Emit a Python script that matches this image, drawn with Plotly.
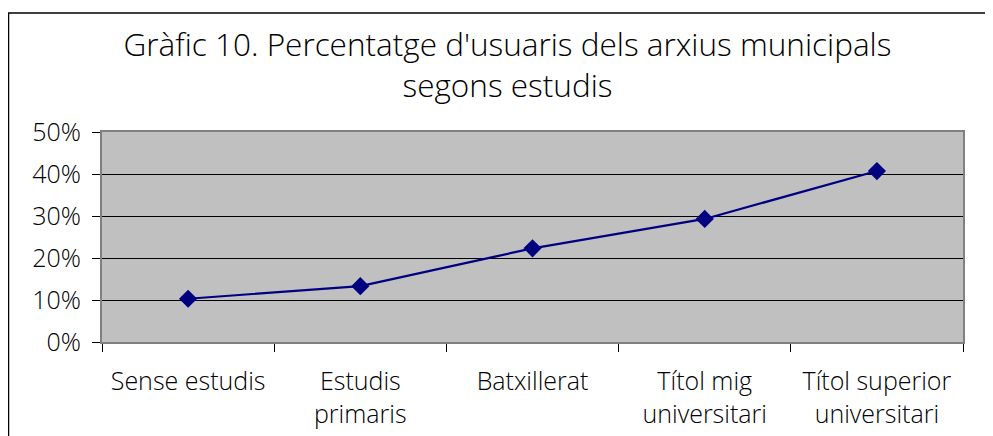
import plotly.graph_objects as go

categories = ["Sense estudis", "Estudis<br>primaris", "Batxillerat", "Títol mig<br>universitari", "Títol superior<br>universitari"]
values = [10.3, 13.3, 22.3, 29.3, 40.7]
y_ticks = [0, 10, 20, 30, 40, 50]
y_ticklabels = ["0%", "10%", "20%", "30%", "40%", "50%"]
title_text = "Gràfic 10. Percentatge d'usuaris dels arxius municipals<br>segons estudis"

FONT = "Open Sans"

fig = go.Figure()
fig.add_trace(go.Scatter(
    x=categories, y=values, mode="lines+markers",
    line=dict(color="#000080", width=2.2),
    marker=dict(symbol="diamond", size=14, color="#000080"),
    hoverinfo="skip", showlegend=False,
))

fig.update_layout(
    width=993, height=436,
    margin=dict(l=94, r=38, t=124, b=102),
    paper_bgcolor="white", plot_bgcolor="#C0C0C0",
    font=dict(family=FONT, size=25, color="black", weight=300),
    title=dict(text=title_text, x=0.503, xanchor="center", y=0.89, yanchor="top",
               font=dict(family=FONT, size=31.5, color="black", weight=300)),
    xaxis=dict(
        type="category", range=[-0.5, len(categories) - 0.5],
        showgrid=False, ticks="outside", tickson="boundaries",
        ticklen=8, tickcolor="black", tickwidth=1, ticklabelstandoff=16,
        showline=True, linecolor="#808080", linewidth=2, mirror=True,
        tickfont=dict(family=FONT, size=25, weight=300), fixedrange=True,
    ),
    yaxis=dict(
        range=[0, 50], tickvals=y_ticks, ticktext=y_ticklabels,
        showgrid=True, gridcolor="black", gridwidth=1, zeroline=False,
        ticks="outside", ticklen=8, tickcolor="black", tickwidth=1, ticklabelstandoff=6,
        showline=True, linecolor="#808080", linewidth=2, mirror=True,
        tickfont=dict(family=FONT, size=25, weight=300), fixedrange=True,
    ),
    shapes=[dict(type="rect", xref="paper", yref="paper",
                 x0=-93.5 / 861, x1=1.2, y0=-0.7, y1=1 + 119 / 210,
                 line=dict(color="black", width=1.5), fillcolor="rgba(0,0,0,0)", layer="below")],
)

fig.write_html("out.html")
